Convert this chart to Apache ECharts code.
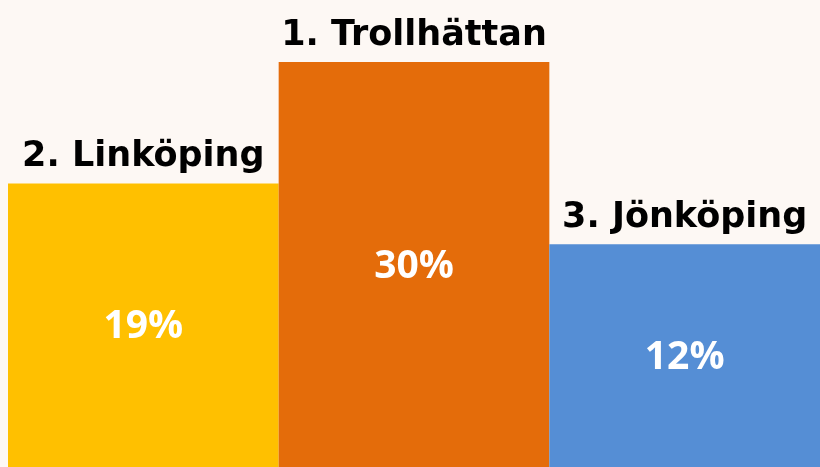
<!DOCTYPE html>
<html>
<head>
<meta charset="utf-8">
<script src="https://cdn.jsdelivr.net/npm/echarts@6/dist/echarts.min.js"></script>
<style>
html,body{margin:0;padding:0;background:#fdf8f4;}
#c{width:820px;height:467px;}
</style>
</head>
<body>
<div id="c"></div>
<script>
const categories = ['Linköping', 'Trollhättan', 'Jönköping'];
const ranks = [2, 1, 3];
const shares = [19, 30, 12];
const podiumHeights = [70, 100, 55];
const colors = ['#ffc000', '#e46c0a', '#558ed5'];

const chart = echarts.init(document.getElementById('c'));
chart.setOption({
  backgroundColor: '#fdf8f4',
  animation: false,
  grid: { left: 8, right: -2, top: 62, bottom: 0, containLabel: false },
  xAxis: {
    type: 'category', data: categories,
    axisLine: { show: false }, axisTick: { show: false }, axisLabel: { show: false }
  },
  yAxis: {
    type: 'value', min: 0, max: 100,
    show: false, splitLine: { show: false }
  },
  series: [
    {
      type: 'bar', barWidth: '100%', barGap: '-100%',
      data: podiumHeights.map((h, i) => ({ value: h, itemStyle: { color: colors[i] } })),
      label: {
        show: true, position: 'inside', offset: [0, 2],
        formatter: p => shares[p.dataIndex] + '%',
        color: '#ffffff', fontFamily: '"Open Sans", sans-serif', fontWeight: 'bold', fontSize: 39
      }
    },
    {
      type: 'bar', barWidth: '100%', barGap: '-100%',
      data: podiumHeights,
      itemStyle: { color: 'rgba(0,0,0,0)' },
      silent: true,
      label: {
        show: true, position: 'top', distance: 9,
        formatter: p => ranks[p.dataIndex] + '. ' + categories[p.dataIndex],
        color: '#000000', fontFamily: '"DejaVu Sans", sans-serif', fontWeight: 'bold', fontSize: 35
      }
    }
  ]
});
</script>
</body>
</html>
